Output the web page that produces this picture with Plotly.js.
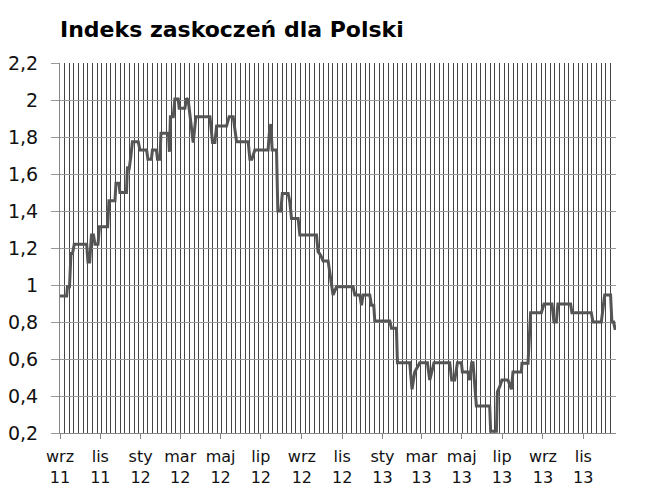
<!DOCTYPE html>
<html>
<head>
<meta charset="utf-8">
<script src="https://cdn.plot.ly/plotly-3.0.1.min.js"></script>
<style>html,body{margin:0;padding:0;background:#fff;}#chart{width:647px;height:492px;}</style>
</head>
<body>
<div id="chart"></div>
<script>
// Day offsets from 2011-09-01 and index values
const startDate = '2011-09-01';
const dayOffsets = [0,10.1,11.3,14.4,16.6,18.9,21.6,40.4,42.3,44.9,47.6,50.7,52.9,57.5,59.7,72.1,74.1,83.2,84.7,89.2,90.7,100.6,102.1,104.4,107.4,109.6,118.4,121.0,131.1,133.1,138.4,139.9,145.9,147.5,151.2,152.8,164.1,165.6,167.1,171.4,173.9,178.9,180.4,189.0,191.6,194.0,201.6,205.7,226.9,230.9,234.4,237.0,252.1,256.0,262.1,267.2,284.8,287.4,290.4,294.9,315.0,316.8,319.1,321.1,327.7,329.7,334.2,336.5,345.3,347.8,350.4,360.4,363.0,388.2,390.6,394.7,398.2,405.8,413.3,418.5,443.6,446.2,453.7,456.3,458.7,468.8,471.4,474.9,476.4,499.1,501.7,509.2,510.7,529.3,532.8,536.9,544.5,556.1,559.6,566.1,589.8,592.9,597.4,601.5,607.5,609.0,617.1,620.1,623.1,625.1,630.2,650.3,651.8,660.5,662.0,665.5,668.9,678.0,683.2,685.6,698.3,699.2,708.3,712.3,728.5,732.5,744.6,747.6,751.2,753.6,772.8,774.8,804.1,806.6,819.3,824.3,833.3,835.3,837.9,840.4];
const values = [0.94,0.94,0.99,0.99,1.17,1.17,1.22,1.22,1.125,1.125,1.27,1.27,1.22,1.22,1.315,1.315,1.455,1.455,1.55,1.55,1.50,1.50,1.64,1.62,1.70,1.775,1.775,1.73,1.73,1.68,1.68,1.73,1.73,1.68,1.68,1.82,1.82,1.72,1.91,1.91,2.005,2.005,1.955,1.955,2.01,2.0,1.77,1.91,1.91,1.77,1.77,1.86,1.86,1.91,1.91,1.775,1.775,1.68,1.68,1.73,1.73,1.82,1.87,1.73,1.73,1.40,1.40,1.495,1.495,1.45,1.36,1.36,1.27,1.27,1.18,1.16,1.13,1.13,0.946,0.99,0.99,0.946,0.946,0.89,0.946,0.946,0.89,0.89,0.805,0.805,0.766,0.766,0.58,0.58,0.436,0.53,0.58,0.58,0.486,0.58,0.58,0.486,0.486,0.58,0.58,0.53,0.53,0.486,0.58,0.58,0.346,0.346,0.21,0.21,0.423,0.45,0.486,0.486,0.436,0.53,0.53,0.577,0.577,0.85,0.85,0.897,0.897,0.80,0.80,0.897,0.897,0.85,0.85,0.80,0.80,0.946,0.946,0.80,0.80,0.757];
const tickDates = ['2011-09-01','2011-11-01','2012-01-01','2012-03-01','2012-05-01','2012-07-01','2012-09-01','2012-11-01','2013-01-01','2013-03-01','2013-05-01','2013-07-01','2013-09-01','2013-11-01'];
const tickLabels = ['wrz<br>11','lis<br>11','sty<br>12','mar<br>12','maj<br>12','lip<br>12','wrz<br>12','lis<br>12','sty<br>13','mar<br>13','maj<br>13','lip<br>13','wrz<br>13','lis<br>13'];
const xEnd = '2013-12-20 12:00';
const titleText = 'Indeks zaskoczeń dla Polski';

const base = Date.parse(startDate + 'T00:00:00Z');
function toDate(d){
  return new Date(base + d*86400000).toISOString().replace('T',' ').slice(0,19);
}
const xs = dayOffsets.map(toDate);

const trace = {
  x: xs, y: values, type: 'scatter', mode: 'lines',
  line: {color: '#555555', width: 3},
  hoverinfo: 'skip'
};

const layout = {
  width: 647, height: 492,
  margin: {l: 60, r: 31, t: 63, b: 59},
  paper_bgcolor: '#ffffff', plot_bgcolor: '#ffffff',
  separators: ', ',
  font: {family: 'DejaVu Sans, Verdana, sans-serif', color: '#000000', size: 14},
  showlegend: false,
  title: {
    text: '<b>' + titleText + '</b>',
    font: {family: 'DejaVu Sans, Verdana, sans-serif', size: 22, color: '#000000'},
    x: 60/647, xanchor: 'left', xref: 'container',
    y: 1 - 29/492, yanchor: 'middle', yref: 'container'
  },
  xaxis: {
    type: 'date',
    range: [startDate, xEnd],
    tickmode: 'array', tickvals: tickDates, ticktext: tickLabels,
    ticks: 'outside', ticklen: 5, tickcolor: '#888888', tickwidth: 1,
    ticklabelstandoff: 4,
    showgrid: false, zeroline: false,
    showline: true, linecolor: '#888888', linewidth: 1,
    tickfont: {size: 16, color: '#111111'},
    minor: {tickmode: 'linear', tick0: startDate, dtick: 7*86400000, showgrid: true, gridcolor: '#454545', gridwidth: 1, ticks: ''},
    fixedrange: true
  },
  yaxis: {
    range: [0.2, 2.2], dtick: 0.2, tick0: 0.2,
    ticks: 'outside', ticklen: 8, tickcolor: '#999999',
    ticklabelstandoff: 9,
    showgrid: true, gridcolor: '#999999', gridwidth: 1,
    zeroline: false, showline: true, linecolor: '#888888', linewidth: 1,
    tickfont: {size: 19, color: '#111111'},
    fixedrange: true
  }
};

Plotly.newPlot('chart', [trace], layout, {displayModeBar: false, staticPlot: true});
</script>
</body>
</html>
